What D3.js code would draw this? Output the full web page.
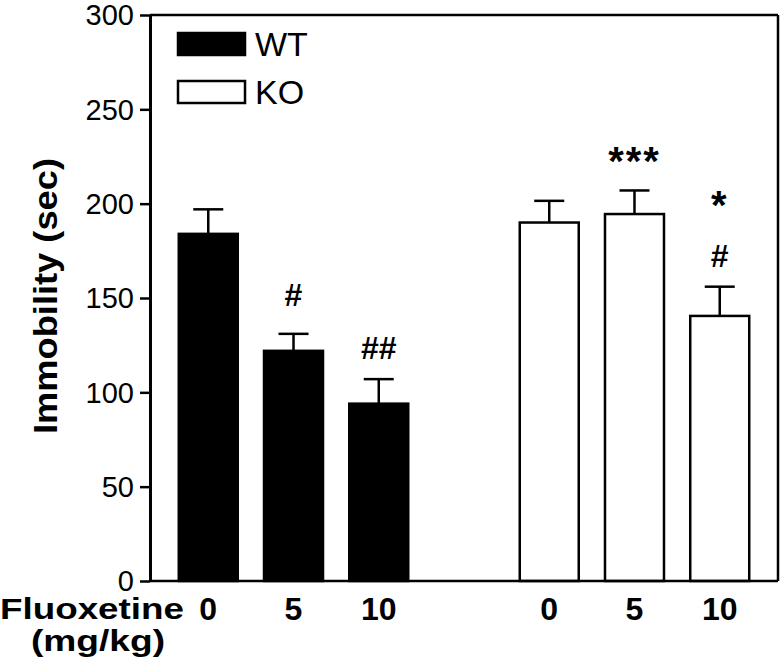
<!DOCTYPE html>
<html><head><meta charset="utf-8">
<script src="https://cdn.jsdelivr.net/npm/d3@7"></script>
<style>
html,body{margin:0;padding:0;background:#fff;}
svg text{font-family:"Liberation Sans", Arial, sans-serif;fill:#000;}
</style></head>
<body>
<svg id="chart" width="783" height="668"></svg>
<script>
// ---- data ----
const groups = ["WT", "KO"];
const doses = ["0", "5", "10"];
const slots = ["WT0", "WT5", "WT10", "gap", "KO0", "KO5", "KO10"];
const wtMean = [184, 122, 94];
const wtSem = [13, 9, 13];
const koMean = [190, 194.5, 140.5];
const koSem = [11.5, 12.5, 15.5];
const yTicks = [0, 50, 100, 150, 200, 250, 300];
// annotations: slot, text, baseline value
const annotations = [
  {slot: "WT5", text: "#", v: 146, kind: "hash"},
  {slot: "WT10", text: "##", v: 117.7, kind: "hash"},
  {slot: "KO5", text: "***", v: 215, kind: "star"},
  {slot: "KO10", text: "*", v: 192, kind: "star"},
  {slot: "KO10", text: "#", v: 166.4, kind: "hash"}
];

const bars = [];
groups.forEach(g => {
  const m = g === "WT" ? wtMean : koMean;
  const s = g === "WT" ? wtSem : koSem;
  doses.forEach((d, i) => bars.push({slot: g + d, group: g, dose: d, mean: m[i], sem: s[i]}));
});

const svg = d3.select("#chart");
const pL = 150, pR = 778, pT = 15, pB = 581;

const x = d3.scaleBand().domain(slots).range([pL, pR]).paddingInner(0.308).paddingOuter(0.3375);
const y = d3.scaleLinear().domain([0, 300]).range([pB, pT]);

// frame top & right
svg.append("line").attr("x1", pL).attr("x2", pR).attr("y1", pT).attr("y2", pT)
  .attr("stroke", "#000").attr("stroke-width", 2.5);
svg.append("line").attr("x1", pR).attr("x2", pR).attr("y1", pT).attr("y2", pB)
  .attr("stroke", "#000").attr("stroke-width", 2.5);

// bars
svg.selectAll("rect.bar").data(bars).enter().append("rect")
  .attr("class", "bar")
  .attr("x", d => x(d.slot))
  .attr("width", x.bandwidth())
  .attr("y", d => y(d.mean))
  .attr("height", d => y(0) - y(d.mean))
  .attr("fill", d => d.group === "WT" ? "#000" : "#fff")
  .attr("stroke", "#000")
  .attr("stroke-width", 2.5);

// error bars
const cap = 30;
const eb = svg.selectAll("g.err").data(bars).enter().append("g").attr("class", "err");
eb.append("line")
  .attr("x1", d => x(d.slot) + x.bandwidth() / 2).attr("x2", d => x(d.slot) + x.bandwidth() / 2)
  .attr("y1", d => y(d.mean)).attr("y2", d => y(d.mean + d.sem))
  .attr("stroke", "#000").attr("stroke-width", 2.5);
eb.append("line")
  .attr("x1", d => x(d.slot) + x.bandwidth() / 2 - cap / 2).attr("x2", d => x(d.slot) + x.bandwidth() / 2 + cap / 2)
  .attr("y1", d => y(d.mean + d.sem)).attr("y2", d => y(d.mean + d.sem))
  .attr("stroke", "#000").attr("stroke-width", 2.5);

// y axis
const yAxis = svg.append("g").attr("transform", `translate(${pL},0)`)
  .call(d3.axisLeft(y).tickValues(yTicks).tickSize(10).tickPadding(6).tickSizeOuter(0));
yAxis.select(".domain").attr("stroke-width", 3);
yAxis.selectAll(".tick line").attr("stroke-width", 2.5);
yAxis.selectAll(".tick text").attr("font-size", 29).attr("font-family", "Liberation Sans, Arial, sans-serif")
  .attr("dy", "0.34em");

// bottom axis line
svg.append("line").attr("x1", pL).attr("x2", pR).attr("y1", pB).attr("y2", pB)
  .attr("stroke", "#000").attr("stroke-width", 2.5);

// x labels
const xAxis = svg.append("g").attr("transform", `translate(0,${pB})`)
  .call(d3.axisBottom(x).tickValues(bars.map(b => b.slot)).tickSize(0).tickPadding(0)
    .tickFormat(s => bars.find(b => b.slot === s).dose));
xAxis.select(".domain").remove();
xAxis.selectAll(".tick text").attr("font-size", 32).attr("font-weight", "bold")
  .attr("font-family", "Liberation Sans, Arial, sans-serif").attr("dy", null).attr("y", 39);

const xt = svg.append("text").attr("font-size", 30).attr("font-weight", "bold");
xt.append("tspan").attr("x", 0).attr("y", 619)
  .attr("textLength", 184).attr("lengthAdjust", "spacingAndGlyphs").text("Fluoxetine");
xt.append("tspan").attr("x", 31).attr("y", 651)
  .attr("textLength", 134).attr("lengthAdjust", "spacingAndGlyphs").text("(mg/kg)");

// y title
svg.append("text").attr("transform", "translate(57,296) rotate(-90)")
  .attr("text-anchor", "middle").attr("font-size", 34).attr("font-weight", "bold")
  .attr("textLength", 276).attr("lengthAdjust", "spacingAndGlyphs")
  .text("Immobility (sec)");

// legend
const legend = svg.append("g");
groups.forEach((g, i) => {
  legend.append("rect").attr("x", 178).attr("y", 33 + i * 48).attr("width", 67).attr("height", 22)
    .attr("fill", g === "WT" ? "#000" : "#fff").attr("stroke", "#000").attr("stroke-width", 2.5);
  legend.append("text").attr("x", 255).attr("y", 56 + i * 48).attr("font-size", 34).text(g);
});

// annotations
svg.selectAll("text.ann").data(annotations).enter().append("text")
  .attr("class", "ann")
  .attr("x", d => x(d.slot) + x.bandwidth() / 2)
  .attr("y", d => y(d.v))
  .attr("text-anchor", "middle")
  .attr("font-weight", "bold")
  .attr("font-size", d => d.kind === "star" ? 40 : 32)
  .attr("letter-spacing", d => d.kind === "star" ? 2 : 0)
  .text(d => d.text);
</script>
</body></html>
